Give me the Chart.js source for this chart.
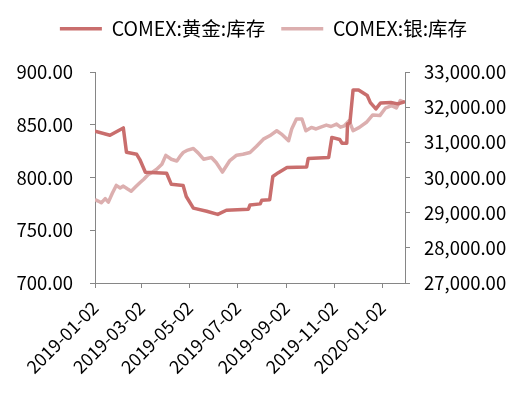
<!DOCTYPE html>
<html>
<head>
<meta charset="utf-8">
<script src="https://cdn.jsdelivr.net/npm/chart.js@4/dist/chart.umd.min.js"></script>
<style>
html,body{margin:0;padding:0;background:#fff;}
#wrap{width:527px;height:397px;position:relative;}
</style>
</head>
<body>
<div id="wrap"><canvas id="c" width="527" height="397"></canvas></div>
<script>
const seriesNames = ['COMEX:黄金:库存', 'COMEX:银:库存'];
const tickDates = ['2019-01-02','2019-03-02','2019-05-02','2019-07-02','2019-09-02','2019-11-02','2020-01-02'];
const startDate = '2019-01-02';
const endDate = '2020-01-31';

const goldDates = ['2019-01-02','2019-01-21','2019-02-07','2019-02-11','2019-02-24','2019-02-28','2019-03-07','2019-04-03','2019-04-09','2019-04-24','2019-04-28','2019-05-07','2019-05-24','2019-06-07','2019-06-18','2019-07-16','2019-07-18','2019-07-31','2019-08-02','2019-08-12','2019-08-16','2019-08-23','2019-09-03','2019-09-28','2019-09-30','2019-10-26','2019-10-30','2019-11-09','2019-11-12','2019-11-18','2019-11-19','2019-11-22','2019-11-26','2019-12-03','2019-12-14','2019-12-18','2019-12-25','2019-12-31','2020-01-13','2020-01-22','2020-01-31'];
const goldValues = [844,840,847,824,822,817,805,804,793.5,792.5,782,771,768,765,769,770,774,775,778.5,779,801,804.6,809.4,810,818,819,838,836,832.5,832.5,850.7,852,883,883,877.7,871,865,870.7,871,869.8,872];

const silverDates = ['2019-01-02','2019-01-06','2019-01-10','2019-01-15','2019-01-19','2019-01-24','2019-01-29','2019-02-03','2019-02-07','2019-02-12','2019-02-17','2019-02-22','2019-02-28','2019-03-05','2019-03-11','2019-03-16','2019-03-21','2019-03-28','2019-04-02','2019-04-09','2019-04-16','2019-04-20','2019-04-24','2019-04-30','2019-05-07','2019-05-13','2019-05-20','2019-05-30','2019-06-05','2019-06-13','2019-06-22','2019-07-01','2019-07-09','2019-07-18','2019-07-26','2019-08-04','2019-08-12','2019-08-21','2019-08-27','2019-09-05','2019-09-09','2019-09-15','2019-09-22','2019-09-27','2019-10-04','2019-10-10','2019-10-15','2019-10-23','2019-10-29','2019-11-05','2019-11-10','2019-11-15','2019-11-21','2019-11-26','2019-12-04','2019-12-13','2019-12-21','2019-12-30','2020-01-06','2020-01-14','2020-01-20','2020-01-25','2020-01-30'];
const silverValues = [29375,29330,29280,29400,29300,29550,29775,29700,29755,29680,29610,29720,29850,29950,30090,30150,30230,30375,30630,30520,30470,30600,30710,30780,30825,30700,30520,30570,30425,30155,30470,30635,30660,30710,30880,31090,31185,31330,31235,31045,31380,31665,31665,31330,31425,31380,31425,31490,31450,31520,31430,31470,31615,31330,31425,31570,31780,31760,31970,32045,31980,32190,32140];

const DAY = 86400000;
const dayOf = d => (Date.parse(d) - Date.parse(startDate)) / DAY;
const toPts = (ds, vs) => ds.map((d, i) => ({x: dayOf(d), y: vs[i]}));
const tickDays = tickDates.map(dayOf);

const FONT = '"Noto Sans CJK SC", "Noto Sans", sans-serif';
const axisColor = '#868686';

const legendHeight = {
  id: 'legendHeight',
  afterInit(chart) {
    const lg = chart.legend;
    if (!lg) return;
    const orig = lg.fit.bind(lg);
    lg.fit = function () { orig(); this.height = 69; };
  }
};

new Chart(document.getElementById('c'), {
  type: 'line',
  data: {
    datasets: [
      {label: seriesNames[0], data: toPts(goldDates, goldValues), yAxisID: 'yL',
       borderColor: '#C96E6D', backgroundColor: '#C96E6D', borderWidth: 3.5,
       pointRadius: 0, tension: 0, borderJoinStyle: 'round'},
      {label: seriesNames[1], data: toPts(silverDates, silverValues), yAxisID: 'yR',
       borderColor: '#DCAFAF', backgroundColor: '#DCAFAF', borderWidth: 3.5,
       pointRadius: 0, tension: 0, borderJoinStyle: 'round'}
    ]
  },
  options: {
    responsive: false,
    animation: false,
    layout: {padding: {top: 3, right: 0, left: 0, bottom: 0}},
    plugins: {
      tooltip: {enabled: false},
      legend: {
        position: 'top',
        labels: {
          usePointStyle: true, pointStyle: 'line', pointStyleWidth: 42, boxHeight: 4,
          color: '#000', font: {family: FONT, size: 19.5}, padding: 16
        }
      }
    },
    scales: {
      x: {
        type: 'linear', min: 0, max: dayOf(endDate),
        afterBuildTicks: s => { s.ticks = tickDays.map(v => ({value: v})); },
        afterFit: s => { s.height = 114; },
        grid: {display: true, drawOnChartArea: false, color: axisColor, tickLength: 5},
        border: {color: axisColor, width: 1},
        ticks: {
          minRotation: 45, maxRotation: 45, color: '#000', font: {family: FONT, size: 18},
          autoSkip: false, padding: 9,
          callback: (v) => { const i = tickDays.indexOf(v); return i >= 0 ? tickDates[i] : ''; }
        }
      },
      yL: {
        position: 'left', min: 700, max: 900,
        afterBuildTicks: s => { s.ticks = [700,750,800,850,900].map(v => ({value: v})); },
        afterFit: s => { s.width = 95; },
        grid: {display: true, drawOnChartArea: false, color: axisColor, tickLength: 5},
        border: {color: axisColor, width: 1},
        ticks: {color: '#000', font: {family: FONT, size: 18.5}, padding: 17,
          callback: v => v.toFixed(2)}
      },
      yR: {
        position: 'right', min: 27000, max: 33000,
        afterBuildTicks: s => { s.ticks = [27000,28000,29000,30000,31000,32000,33000].map(v => ({value: v})); },
        afterFit: s => { s.width = 122; },
        grid: {display: true, drawOnChartArea: false, color: axisColor, tickLength: 5},
        border: {color: axisColor, width: 1},
        ticks: {color: '#000', font: {family: FONT, size: 18.5}, padding: 14,
          callback: v => v.toLocaleString('en-US', {minimumFractionDigits: 2, maximumFractionDigits: 2})}
      }
    }
  },
  plugins: [legendHeight]
});
</script>
</body>
</html>
